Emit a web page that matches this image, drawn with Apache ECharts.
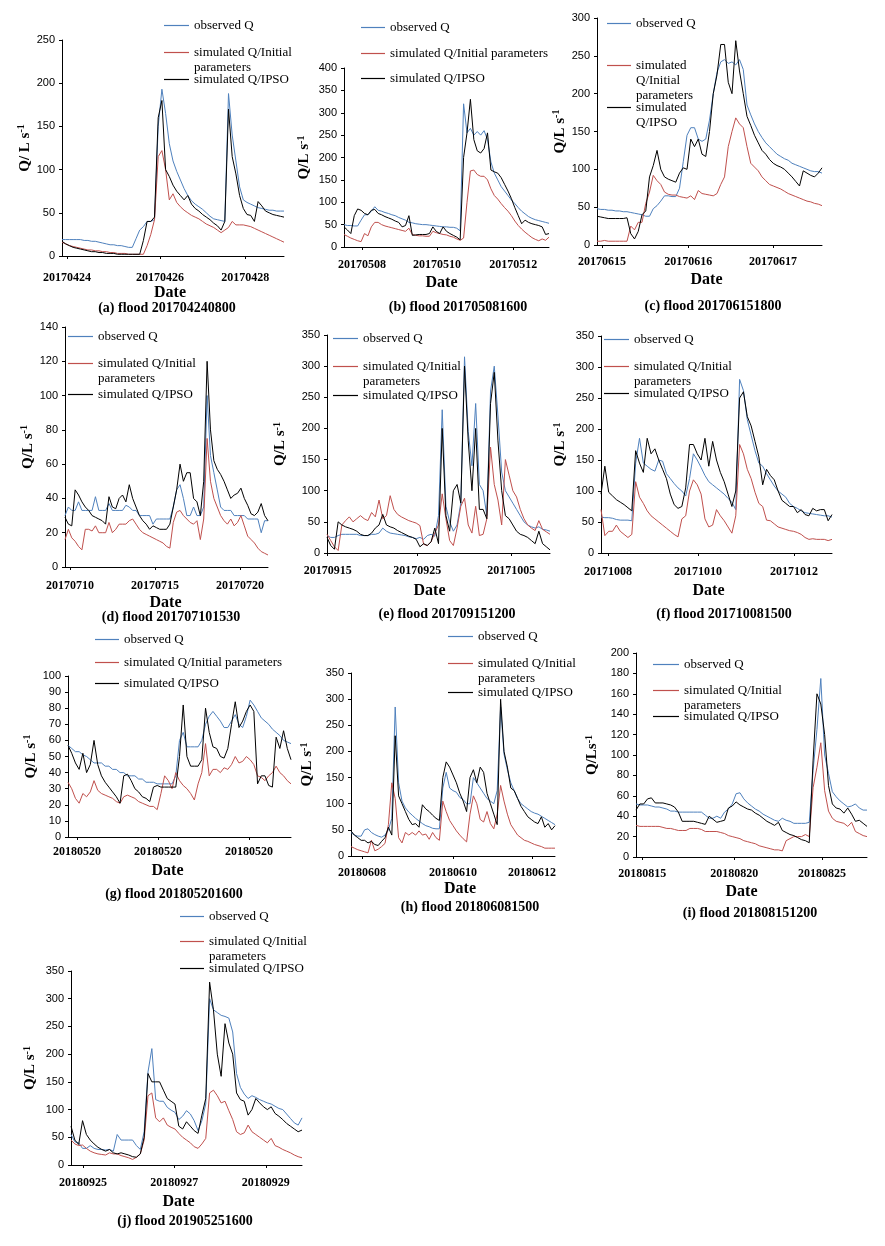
<!DOCTYPE html>
<html><head><meta charset="utf-8">
<script src="https://cdn.jsdelivr.net/npm/echarts@6/dist/echarts.min.js"></script>
<style>html,body{margin:0;padding:0;background:#fff}#c{width:885px;height:1246px}</style>
</head><body><div id="c"></div>
<script>
const SERIES_NAMES = ['observed Q', 'simulated Q/Initial parameters', 'simulated Q/IPSO'];

// (a) flood 201704240800
const obsA = [19,19,19,19,19,19,18,18,17,17,16,15,14,13,13,12,12,11,10,10,20,30,34,40,40,42,150,193,165,130,110,98,88,78,70,64,60,57,54,50,46,43,42,41,40,188,140,110,80,65,62,60,58,56,55,54,53,53,52,52,52];
const iniA = [16,14,12,11,10,9,8,7,7,6,6,5,5,4,4,3,3,3,2,2,2,2,2,12,25,42,115,122,100,65,72,62,57,53,50,47,45,43,40,37,35,33,30,27,30,33,40,36,36,36,35,34,32,30,28,26,24,22,20,18,16];
const ipsoA = [17,14,12,10,9,8,7,6,5,5,4,4,3,3,3,2,2,2,2,2,2,2,18,40,40,45,160,180,100,92,82,75,70,65,70,60,55,52,48,45,42,38,35,30,40,170,115,95,70,55,48,47,40,63,58,52,50,48,47,46,45];
// (b) flood 201705081600
const obsB = [50,48,48,47,47,60,72,72,80,90,82,80,77,75,72,70,66,63,60,55,54,52,51,50,50,49,48,47,46,45,45,44,44,42,36,320,255,265,250,258,250,260,240,190,165,150,135,125,115,105,97,88,80,74,68,64,61,59,57,55,53];
const iniB = [28,24,20,17,14,12,30,25,45,55,55,50,47,45,43,41,39,37,35,42,28,26,25,25,24,24,35,32,30,28,27,24,22,18,15,20,100,170,172,162,158,158,150,130,115,107,97,88,80,70,58,48,40,33,27,21,17,14,18,15,22];
const ipsoB = [45,38,30,70,85,82,75,72,82,84,75,72,68,65,62,58,55,45,48,70,26,27,28,28,28,30,45,35,30,45,35,30,26,22,16,200,255,330,240,215,210,220,255,172,168,165,155,140,125,108,88,70,52,60,55,52,50,48,45,28,30];
// (c) flood 201706151800
const obsC = [48,47,47,46,46,45,45,44,44,43,42,41,40,38,38,48,52,58,65,65,64,64,75,110,145,155,155,140,137,140,165,200,228,242,245,240,242,238,245,232,185,172,160,150,142,135,130,125,120,117,114,112,108,106,104,102,100,98,97,97,95];
const iniC = [5,5,6,5,5,5,5,5,5,25,20,30,30,55,70,92,85,80,70,67,66,66,64,63,62,65,60,72,68,67,66,65,68,80,90,130,150,168,160,155,130,108,103,98,90,85,80,78,76,74,71,68,66,64,62,60,58,57,55,54,52];
const ipsoC = [38,37,36,35,35,35,35,35,36,15,8,18,40,45,90,105,125,100,90,87,85,83,95,102,100,140,130,140,120,117,150,200,225,265,265,215,200,270,230,200,170,158,145,135,125,120,113,108,105,103,100,95,90,84,78,98,95,92,90,95,102];
// (d) flood 201707101530
const obsD = [30,35,33,33,38,33,33,33,33,41,33,33,33,37,33,33,33,33,36,35,33,33,30,30,30,30,25,28,28,28,28,28,35,45,48,40,30,30,35,30,30,35,100,65,55,45,35,33,33,33,30,30,30,30,28,28,28,28,20,27,27];
const iniD = [16,22,17,15,12,10,22,22,21,24,20,20,20,26,20,22,25,25,25,27,28,25,22,20,19,18,17,16,15,14,12,11,26,32,33,30,28,26,25,27,16,28,75,50,40,35,30,27,25,28,24,26,30,24,18,16,14,11,9,8,7];
const ipsoD = [29,25,24,45,42,38,35,33,30,29,28,27,25,41,35,34,40,42,38,48,40,35,30,27,25,22,24,23,22,22,22,25,35,45,60,50,55,55,40,38,30,50,120,80,62,57,54,50,45,40,42,43,46,40,36,31,30,32,37,30,27];
// (e) flood 201709151200
const obsE = [28,25,25,28,30,30,30,30,30,28,28,28,30,30,32,40,35,32,31,30,29,28,26,25,23,25,22,28,30,27,60,230,75,50,35,45,80,315,195,140,240,110,100,60,260,300,220,130,100,90,80,70,60,50,45,42,40,42,38,37,35];
const iniE = [30,20,10,4,45,52,58,50,55,60,55,52,65,58,85,55,60,92,70,62,58,55,52,50,48,44,14,12,18,32,45,95,55,20,12,40,75,88,45,32,75,28,30,55,170,110,85,45,150,125,100,90,70,55,45,40,36,52,38,34,30];
const ipsoE = [25,12,6,50,45,42,40,38,35,30,28,28,32,40,45,62,45,42,40,36,33,30,27,25,22,10,15,12,18,40,15,200,60,35,100,110,80,300,180,100,200,70,70,55,240,290,180,100,60,55,45,35,30,28,25,20,15,35,15,10,5];
// (f) flood 201710081500
const obsF = [58,57,57,56,54,53,53,53,52,145,185,145,140,135,132,150,148,128,120,112,105,100,92,120,160,150,138,125,115,110,105,100,95,88,82,70,280,262,215,190,165,145,140,128,118,108,100,95,90,80,75,72,68,65,64,63,62,61,60,60,58];
const iniF = [70,28,35,35,45,35,30,25,30,115,90,80,68,60,55,50,45,40,35,30,26,55,60,100,118,110,95,55,42,45,70,60,52,42,32,60,175,160,135,120,98,80,75,53,52,47,42,40,38,36,35,33,30,25,22,23,22,22,22,20,22];
const ipsoF = [95,140,98,92,86,82,78,73,68,165,145,130,185,160,168,150,135,120,95,78,72,75,105,175,175,160,150,185,140,180,150,130,115,95,75,100,250,260,220,205,180,155,110,135,125,118,100,85,80,75,75,65,70,62,60,72,68,70,70,52,62];
// (g) flood 201805201600
const obsG = [57,55,53,53,51,50,48,46,46,46,44,44,42,42,40,40,38,38,38,36,36,34,34,34,33,33,33,33,33,38,60,65,56,56,56,56,60,70,75,78,75,72,68,68,72,76,70,68,75,85,82,78,74,72,70,67,65,63,60,59,58];
const iniG = [34,30,24,21,27,25,28,35,29,27,26,25,24,22,21,25,26,25,24,22,21,20,19,19,17,27,38,35,30,40,35,32,30,27,23,33,40,58,38,42,42,40,43,42,45,50,46,47,50,48,45,38,37,35,38,40,44,40,38,35,33];
const ipsoG = [57,52,46,42,52,40,45,60,45,38,34,31,28,25,21,38,39,35,30,28,25,24,22,31,32,31,31,31,31,31,50,82,50,44,44,44,48,80,65,56,55,50,49,55,70,84,68,72,78,82,78,33,38,38,32,31,62,55,66,55,48];
// (h) flood 201806081500
const obsH = [45,40,38,38,50,52,45,41,38,36,40,50,72,285,140,105,92,84,78,72,67,62,58,56,53,52,52,130,160,130,125,122,112,108,100,100,150,140,130,120,110,105,100,125,285,195,165,140,125,110,100,95,90,85,82,80,76,72,68,64,60];
const iniH = [18,15,12,10,8,6,30,10,13,18,24,60,140,110,35,25,45,40,45,40,48,40,42,32,45,35,30,105,85,68,58,48,40,33,27,80,115,100,70,65,85,62,52,80,135,105,80,60,50,40,35,30,28,25,22,20,18,15,15,15,15];
const ipsoH = [48,40,35,30,30,25,28,22,20,28,35,55,40,230,115,100,85,70,60,62,55,98,90,85,78,72,68,150,180,170,155,140,120,105,85,150,165,140,170,160,120,100,80,60,300,200,170,130,125,110,95,85,75,70,65,62,75,55,62,50,58];
// (i) flood 201808151200
const obsI = [52,51,51,51,50,49,49,48,47,45,45,44,44,44,44,44,44,44,41,38,38,40,38,44,47,52,62,63,57,53,50,47,45,42,40,38,36,35,38,36,35,33,33,33,33,34,85,125,175,100,82,64,59,55,52,49,50,52,48,46,46];
const iniI = [31,30,30,30,30,30,30,29,28,28,27,26,26,26,28,28,28,27,25,25,25,25,24,23,21,20,19,18,16,15,14,13,11,10,9,8,7,7,6,16,18,20,20,20,22,20,68,88,112,65,45,38,35,34,33,30,34,25,23,21,20];
const ipsoI = [46,52,52,57,58,53,53,53,52,51,49,44,35,35,35,35,34,33,32,40,37,34,35,36,48,50,54,51,49,47,46,43,41,38,35,33,31,34,26,24,22,21,19,17,16,14,95,160,150,120,70,52,48,47,43,48,42,35,36,33,30];
// (j) flood 201905251600
const obsJ = [55,42,40,30,30,35,30,28,28,27,28,25,55,45,45,45,45,35,28,60,168,210,118,115,115,104,99,95,82,88,98,92,80,62,80,110,300,280,275,270,268,265,240,165,140,128,120,125,122,118,115,112,110,106,102,100,92,84,76,72,85];
const iniJ = [45,38,35,36,30,25,22,20,19,18,22,20,20,17,15,13,10,14,20,45,125,130,85,78,85,72,68,65,57,50,45,40,33,30,38,48,130,135,125,112,115,98,82,60,55,58,72,60,55,50,45,40,48,35,32,28,25,22,18,15,13];
const ipsoJ = [70,45,37,80,55,45,38,32,28,25,28,22,20,22,20,18,15,14,20,50,165,150,150,150,135,120,115,110,70,65,78,70,62,57,90,120,330,280,200,160,255,220,200,130,118,115,90,100,120,112,105,100,105,93,88,82,75,70,65,60,63];

const titles = ['(a) flood 201704240800','(b) flood 201705081600','(c) flood 201706151800','(d) flood 201707101530','(e) flood 201709151200','(f) flood 201710081500','(g) flood 201805201600','(h) flood 201806081500','(i) flood 201808151200','(j) flood 201905251600'];
const yMax = [250,400,300,140,350,350,100,350,200,350];
const yStep = [50,50,50,20,50,50,10,50,20,50];
const tickAt = [[1.35,26.5,49.5],[5.3,27.2,49.5],[1.3,24.3,46.9],[1.5,26.6,51.7],[0.2,24.3,49.6],[1.8,25.2,50.1],[2.4,24.2,48.7],[3.2,30.0,53.2],[1.6,25.5,48.3],[3.1,26.8,50.6]];
const tickText = [['20170424','20170426','20170428'],['20170508','20170510','20170512'],['20170615','20170616','20170617'],['20170710','20170715','20170720'],['20170915','20170925','20171005'],['20171008','20171010','20171012'],['20180520','20180520','20180520'],['20180608','20180610','20180612'],['20180815','20180820','20180825'],['20180925','20180927','20180929']];
const yNames = ['Q/ L s{s|-1}','Q/L s{s|-1}','Q/L s{s|-1}','Q/L s{s|-1}','Q/L s{s|-1}','Q/L s{s|-1}','Q/L s{s|-1}','Q/L s{s|-1}','Q/Ls{s|-1}','Q/L s{s|-1}'];
const iniText = ['simulated Q/Initial\nparameters','simulated Q/Initial parameters','simulated\nQ/Initial\nparameters','simulated Q/Initial\nparameters','simulated Q/Initial\nparameters','simulated Q/Initial\nparameters','simulated Q/Initial parameters','simulated Q/Initial\nparameters','simulated Q/Initial\nparameters','simulated Q/Initial\nparameters'];
const ipsoText = ['simulated Q/IPSO','simulated Q/IPSO','simulated\nQ/IPSO','simulated Q/IPSO','simulated Q/IPSO','simulated Q/IPSO','simulated Q/IPSO','simulated Q/IPSO','simulated Q/IPSO','simulated Q/IPSO'];

const data = [[obsA,iniA,ipsoA],[obsB,iniB,ipsoB],[obsC,iniC,ipsoC],[obsD,iniD,ipsoD],[obsE,iniE,ipsoE],[obsF,iniF,ipsoF],[obsG,iniG,ipsoG],[obsH,iniH,ipsoH],[obsI,iniI,ipsoI],[obsJ,iniJ,ipsoJ]];

// layout (pixels)
const layout = [
 {g:[62,40,222,216], yGap:26, lm:16, dGap:29, dDx:-3, t:[167,309], lx:164, tx:193, ly:[25,52,79]},
 {g:[344,68,205,179], yGap:31, lm:12, dGap:28, dDx:-5, t:[458,308], lx:361, tx:389, ly:[27,53,78]},
 {g:[597,18,225,227], yGap:27, lm:11, dGap:27, dDx:-3, t:[713,307], lx:607, tx:635, ly:[23,65,107]},
 {g:[65,327,203,240], yGap:27, lm:13, dGap:28, dDx:-1, t:[171,618], lx:68, tx:97, ly:[336,363,394]},
 {g:[327,335,223,218], yGap:38, lm:12, dGap:30, dDx:-9, t:[447,615], lx:333, tx:362, ly:[338,366,395]},
 {g:[601,336,231,217], yGap:32, lm:13, dGap:30, dDx:-8, t:[724,615], lx:604, tx:633, ly:[339,366,393]},
 {g:[68,676,223,161], yGap:23, lm:9, dGap:26, dDx:-12, t:[174,895], lx:95, tx:123, ly:[639,662,683]},
 {g:[351,673,204,183], yGap:35, lm:11, dGap:25, dDx:7, t:[470,908], lx:448, tx:477, ly:[636,663,692]},
 {g:[636,653,231,204], yGap:35, lm:11, dGap:27, dDx:-10, t:[750,914], lx:653, tx:683, ly:[664,690,716]},
 {g:[71,971,231,194], yGap:32, lm:12, dGap:29, dDx:-8, t:[185,1222], lx:180, tx:208, ly:[916,941,968]}
];

const SERIF = "'Liberation Serif','Times New Roman',serif";
const SANS = "'Liberation Sans',Arial,sans-serif";
const COLORS = ['#4F81BD', '#C0504D', '#000000'];
const LH = 15;

const grid = [], xAxis = [], yAxis = [], series = [], legend = [], title = [];
layout.forEach((p, i) => {
  const n = data[i][0].length;
  grid.push({left:p.g[0], top:p.g[1], width:p.g[2], height:p.g[3], containLabel:false});
  const ticks = tickAt[i];
  const labs = tickText[i];
  const padR = p.dDx < 0 ? -2*p.dDx : 0, padL = p.dDx > 0 ? 2*p.dDx : 0;
  xAxis.push({
    gridIndex:i, type:'value', min:0, max:n-1,
    axisLine:{show:true, onZero:false, lineStyle:{color:'#000', width:1}},
    axisTick:{show:true, customValues:ticks, length:3, lineStyle:{color:'#000'}},
    axisLabel:{customValues:ticks, margin:p.lm, fontFamily:SERIF, fontWeight:'bold', fontSize:12, color:'#000',
      formatter:(v)=>{const k = ticks.findIndex(t=>Math.abs(t-v)<1e-6); return k>=0 ? labs[k] : '';}},
    splitLine:{show:false},
    name:'Date', nameLocation:'middle', nameGap:p.dGap,
    nameTextStyle:{fontFamily:SERIF, fontWeight:'bold', fontSize:16, color:'#000', padding:[0,padR,0,padL]}
  });
  yAxis.push({
    gridIndex:i, type:'value', min:0, max:yMax[i], interval:yStep[i],
    axisLine:{show:true, lineStyle:{color:'#000', width:1}},
    axisTick:{show:true, length:3, lineStyle:{color:'#000'}},
    axisLabel:{fontFamily:SANS, fontSize:11, color:'#000', margin:7},
    splitLine:{show:false},
    name:yNames[i], nameLocation:'middle', nameRotate:90, nameGap:p.yGap,
    nameTextStyle:{fontFamily:SERIF, fontWeight:'bold', fontSize:15, color:'#000',
      rich:{s:{fontFamily:SERIF, fontWeight:'bold', fontSize:10, color:'#000', verticalAlign:'top', padding:[0,0,7,0]}}}
  });
  data[i].forEach((arr, s) => {
    series.push({
      type:'line', name:SERIES_NAMES[s], xAxisIndex:i, yAxisIndex:i,
      data:arr.map((v,k)=>[k,v]), symbol:'none', showSymbol:false,
      lineStyle:{width:1, color:COLORS[s]}, itemStyle:{color:COLORS[s]},
      animation:false, z:2+s
    });
  });
  const texts = ['observed Q', iniText[i], ipsoText[i]];
  texts.forEach((txt, s) => {
    const lines = txt.split('\n').length;
    const full = '\n'.repeat(lines-1) + txt;
    const H = (2*lines-1)*LH;
    legend.push({
      left:p.lx, top:Math.round(p.ly[s] - H/2), orient:'vertical', padding:0,
      icon:'rect', itemWidth:p.tx - p.lx - 4, itemHeight:1.2, itemGap:0, selectedMode:false,
      itemStyle:{color:COLORS[s], borderWidth:0},
      data:[SERIES_NAMES[s]], formatter:()=>full,
      textStyle:{fontFamily:SERIF, fontSize:13, lineHeight:LH, color:'#000'}
    });
  });
  title.push({text:titles[i], left:p.t[0], top:p.t[1]-8, textAlign:'center', padding:0,
    textStyle:{fontFamily:SERIF, fontWeight:'bold', fontSize:14, color:'#000'}});
});

const chart = echarts.init(document.getElementById('c'), null, {renderer:'canvas'});
chart.setOption({backgroundColor:'#fff', animation:false, title, grid, xAxis, yAxis, series, legend});
</script>
</body></html>
